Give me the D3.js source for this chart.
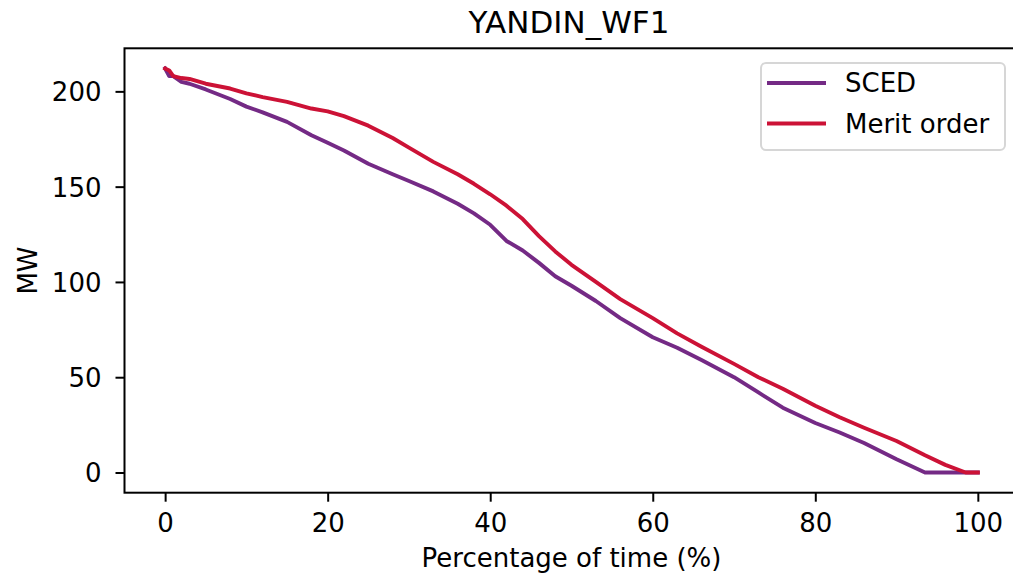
<!DOCTYPE html>
<html>
<head>
<meta charset="utf-8">
<script src="https://cdn.jsdelivr.net/npm/d3@7"></script>
<style>
  body { margin: 0; background: #fff; }
  text { font-family: "DejaVu Sans", sans-serif; fill: #000; }
</style>
</head>
<body>
<div id="chart_area"></div>
<script>
var width = 1013
var height = 577

// Data
var title = "YANDIN_WF1"
var seriesNames = ["SCED", "Merit order"]
var seriesColors = ["#742a85", "#cc1236"]
var percent = [0, 0.5, 1, 2, 3, 5, 8, 10, 12, 15, 18, 20, 22, 25, 28, 30, 33, 36, 38, 40, 42, 44, 46, 48, 50, 53, 56, 60, 63, 66, 70, 73, 76, 80, 83, 86, 90, 93.5, 96, 98.5, 100]
var sced = [212, 208, 208, 205, 204, 201, 196, 192, 189, 184, 177, 173, 169, 162, 156.5, 153, 147.5, 141, 136, 130, 121.5, 116.5, 110, 103, 98, 90, 81, 71, 65.5, 59, 50, 42, 34, 26, 21, 15.5, 7, 0, 0, 0, 0]
var meritOrder = [212, 211, 208, 207, 206.5, 204, 201.5, 199, 197, 194.5, 191, 189.5, 187, 182, 175.5, 170.5, 163, 156.5, 151.5, 146, 140, 133, 124, 116, 109, 100, 91, 81, 73, 66, 57, 50, 44, 35, 29, 23.5, 16.5, 9, 4, 0, 0]
var xTicks = [0, 20, 40, 60, 80, 100]
var yTicks = [0, 50, 100, 150, 200]

var plotLeft = 124.5
var plotTop = 48.3
var plotBottom = 492.7
var pxPerUnit = 8.127

var series = [sced, meritOrder]

var svg = d3.select("#chart_area")
  .append("svg")
  .attr("width", width)
  .attr("height", height)

// matplotlib style 5% margins
var xPad = (d3.max(percent) - d3.min(percent)) * 0.05
var xDomain = [d3.min(percent) - xPad, d3.max(percent) + xPad]
var x = d3.scaleLinear()
  .domain(xDomain)
  .range([plotLeft, plotLeft + (xDomain[1] - xDomain[0]) * pxPerUnit])

var yMax = d3.max(series, (s) => d3.max(s))
var yMin = d3.min(series, (s) => d3.min(s))
var yPad = (yMax - yMin) * 0.05
var y = d3.scaleLinear()
  .domain([yMin - yPad, yMax + yPad])
  .range([plotBottom, plotTop])

// axes
var xAxis = svg.append("g")
  .attr("transform", "translate(0," + plotBottom + ")")
  .call(d3.axisBottom(x).tickValues(xTicks).tickSize(9).tickPadding(6).tickFormat(d3.format("d")))

var yAxis = svg.append("g")
  .attr("transform", "translate(" + plotLeft + ",0)")
  .call(d3.axisLeft(y).tickValues(yTicks).tickSize(9).tickPadding(14).tickFormat(d3.format("d")))

;[xAxis, yAxis].map((g) => {
  g.select(".domain").remove()
  g.selectAll(".tick line").attr("stroke", "#000").attr("stroke-width", 2)
  g.selectAll(".tick text")
    .style("font-size", "26px")
    .attr("fill", "#222")
})
xAxis.selectAll(".tick text").attr("dy", "0.95em")
yAxis.selectAll(".tick text").attr("dy", "0.36em")

// lines
var line = d3.line()
  .x((d, i) => x(percent[i]))
  .y((d) => y(d))

series.map((s, i) => {
  svg.append("path")
    .datum(s)
    .attr("d", line)
    .attr("fill", "none")
    .attr("stroke", seriesColors[i])
    .attr("stroke-width", 3.9)
    .attr("stroke-linejoin", "round")
    .attr("stroke-linecap", "square")
})

// frame
svg.append("rect")
  .attr("x", x.range()[0])
  .attr("y", plotTop)
  .attr("width", x.range()[1] - x.range()[0])
  .attr("height", plotBottom - plotTop)
  .attr("fill", "none")
  .attr("stroke", "#000")
  .attr("stroke-width", 2)

// title and labels
svg.append("text")
  .attr("x", 569)
  .attr("y", 33)
  .attr("text-anchor", "middle")
  .style("font-size", "31px")
  .text(title)

svg.append("text")
  .attr("x", (x.range()[0] + x.range()[1]) / 2)
  .attr("y", 567)
  .attr("text-anchor", "middle")
  .style("font-size", "26px")
  .attr("fill", "#222")
  .text("Percentage of time (%)")

svg.append("text")
  .attr("transform", "translate(37," + (plotTop + plotBottom) / 2 + ") rotate(-90)")
  .attr("text-anchor", "middle")
  .style("font-size", "26px")
  .attr("fill", "#222")
  .text("MW")

// legend
svg.append("rect")
  .attr("x", 761)
  .attr("y", 63)
  .attr("width", 244)
  .attr("height", 87)
  .attr("rx", 5)
  .attr("fill", "#fff")
  .attr("fill-opacity", 0.8)
  .attr("stroke", "#d6d6d6")
  .attr("stroke-width", 2)

seriesNames.map((name, i) => {
  var ly = 83 + i * 40.5
  svg.append("line")
    .attr("x1", 767)
    .attr("x2", 826)
    .attr("y1", ly)
    .attr("y2", ly)
    .attr("stroke", seriesColors[i])
    .attr("stroke-width", 3.9)
  svg.append("text")
    .attr("x", 845)
    .attr("y", ly)
    .attr("dy", "0.36em")
    .style("font-size", "26px")
    .attr("fill", "#222")
    .text(name)
})
</script>
</body>
</html>
